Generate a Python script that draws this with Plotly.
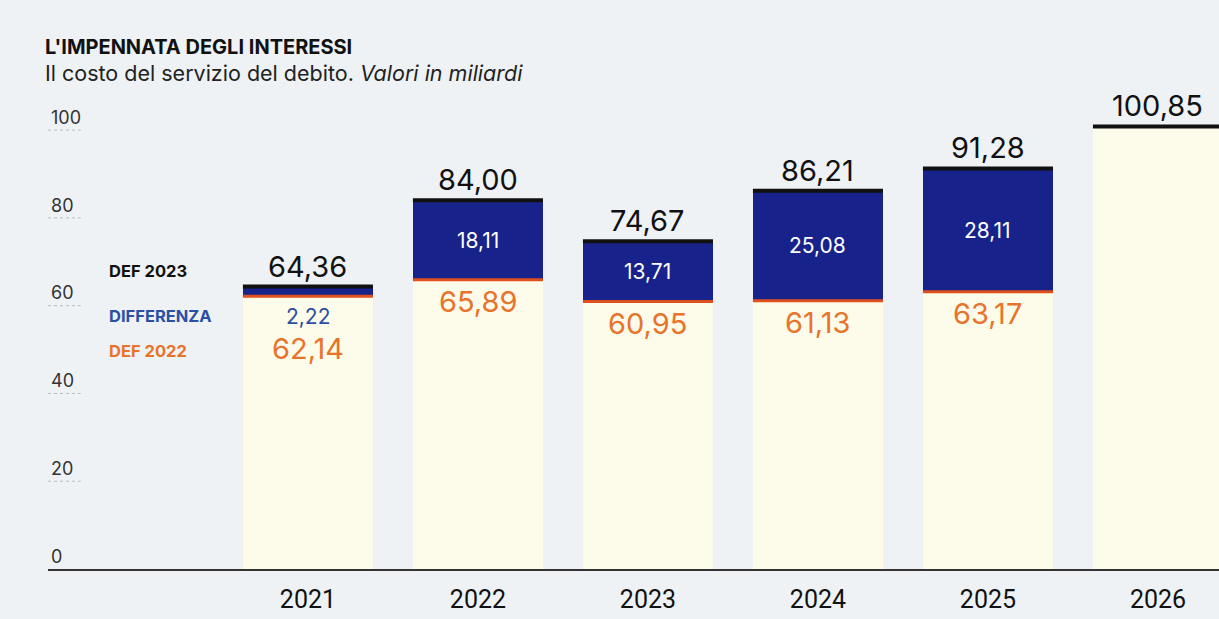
import plotly.graph_objects as go

years = ["2021", "2022", "2023", "2024", "2025", "2026"]
def2022 = [62.14, 65.89, 60.95, 61.13, 63.17, None]
differenza = [2.22, 18.11, 13.71, 25.08, 28.11, None]
def2023 = [64.36, 84.00, 74.67, 86.21, 91.28, 100.85]
y_ticks = [0, 20, 40, 60, 80, 100]

BG = "#eef2f5"
CREAM = "#fdfbea"
NAVY = "#17238a"
ORANGE_LINE = "#e0501e"
ORANGE_TXT = "#e8732b"
BLUE_TXT = "#2a4fa3"
FONT = "Inter, Noto Sans, sans-serif"


def fmt(v):
    return f"{v:.2f}".replace(".", ",")


x = list(range(len(years)))
W = 0.765
HALF = W / 2

fig = go.Figure()

cream_h = [a if a is not None else b for a, b in zip(def2022, def2023)]
fig.add_bar(x=x, y=cream_h, width=W, marker=dict(color=CREAM, line_width=0),
            hoverinfo="skip", showlegend=False)
fig.add_bar(x=x, y=differenza, base=def2022, width=W,
            marker=dict(color=NAVY, line_width=0), hoverinfo="skip", showlegend=False)


def segs(vals):
    xs, ys = [], []
    for i, v in enumerate(vals):
        if v is None:
            continue
        xs += [i - HALF, i + HALF, None]
        ys += [v, v, None]
    return xs, ys


ox, oy = segs(def2022)
fig.add_scatter(x=ox, y=oy, mode="lines", line=dict(color=ORANGE_LINE, width=3),
                hoverinfo="skip", showlegend=False)
bx, by = segs(def2023)
fig.add_scatter(x=bx, y=by, mode="lines", line=dict(color="#111111", width=4),
                hoverinfo="skip", showlegend=False)

ann = []
for i in x:
    v23 = def2023[i]
    ann.append(dict(x=i, y=v23, xref="x", yref="y", text=fmt(v23), showarrow=False,
                    yanchor="bottom", yshift=1,
                    font=dict(family=FONT, size=29, color="#111111")))
    v22 = def2022[i]
    d = differenza[i]
    if v22 is None:
        continue
    small = d < 5
    if small:
        ann.append(dict(x=i, y=v22, xref="x", yref="y", text=fmt(d), showarrow=False,
                        yanchor="top", yshift=-6,
                        font=dict(family=FONT, size=21, color=BLUE_TXT)))
    else:
        ann.append(dict(x=i, y=v22 + d / 2, xref="x", yref="y", text=fmt(d),
                        showarrow=False, yanchor="middle",
                        font=dict(family=FONT, size=21, color="#ffffff")))
    ann.append(dict(x=i, y=v22, xref="x", yref="y", text=fmt(v22), showarrow=False,
                    yanchor="top", yshift=-33 if small else -2,
                    font=dict(family=FONT, size=29, color=ORANGE_TXT)))

# legend labels
ann += [
    dict(x=0.0504, y=0.629, xref="paper", yref="paper", xanchor="left", yanchor="middle",
         text="<b>DEF 2023</b>", showarrow=False,
         font=dict(family=FONT, size=16.5, color="#111111")),
    dict(x=0.0504, y=0.534, xref="paper", yref="paper", xanchor="left", yanchor="middle",
         text="<b>DIFFERENZA</b>", showarrow=False,
         font=dict(family=FONT, size=16.5, color=BLUE_TXT)),
    dict(x=0.0504, y=0.460, xref="paper", yref="paper", xanchor="left", yanchor="middle",
         text="<b>DEF 2022</b>", showarrow=False,
         font=dict(family=FONT, size=16.5, color=ORANGE_TXT)),
]

# title and subtitle
ann += [
    dict(x=-0.004, y=1.101, xref="paper", yref="paper", xanchor="left", yanchor="middle",
         text="<b>L'IMPENNATA DEGLI INTERESSI</b>", showarrow=False,
         font=dict(family=FONT, size=20, color="#111111")),
    dict(x=-0.004, y=1.046, xref="paper", yref="paper", xanchor="left", yanchor="middle",
         text="Il costo del servizio del debito. <i>Valori in miliardi</i>", showarrow=False,
         font=dict(family=FONT, size=21.5, color="#222222")),
]

shapes = [dict(type="line", xref="paper", yref="y", x0=0, x1=0.028, y0=t, y1=t,
               line=dict(color="#b4bbbf", width=1, dash="dot"))
          for t in y_ticks[1:]]

fig.update_layout(
    width=1219, height=619,
    margin=dict(l=48, r=0, t=95, b=50),
    paper_bgcolor=BG, plot_bgcolor=BG,
    barmode="overlay", bargap=0,
    annotations=ann, shapes=shapes,
    xaxis=dict(range=[-1.529, 5.359], tickmode="array", tickvals=x, ticktext=years,
               showgrid=False, zeroline=False, showline=True, linecolor="#333333",
               linewidth=2, ticks="", ticklabelstandoff=7,
               tickfont=dict(family="Liberation Sans Narrow, Roboto, sans-serif",
                             size=25, color="#111111")),
    yaxis=dict(range=[0, 108], tickmode="array", tickvals=y_ticks,
               showgrid=False, zeroline=False, showline=False, ticks="",
               ticklabelposition="inside top",
               tickfont=dict(family=FONT, size=18, color="#333333")),
    hovermode=False,
)

fig.write_html("out.html")
